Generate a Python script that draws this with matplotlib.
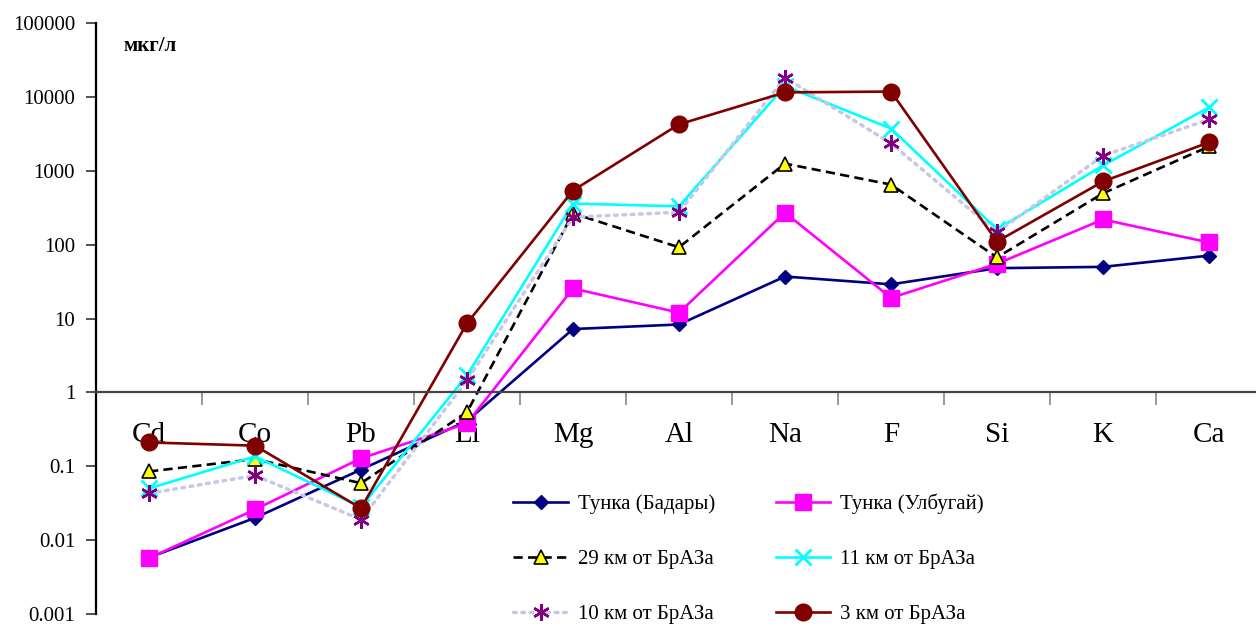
import numpy as np
import matplotlib.pyplot as plt
from matplotlib.ticker import FixedLocator, FuncFormatter

plt.rcParams['font.family'] = ['Liberation Serif', 'DejaVu Serif']

elements = ['Cd', 'Co', 'Pb', 'Li', 'Mg', 'Al', 'Na', 'F', 'Si', 'K', 'Ca']

badary = [0.0058, 0.02, 0.09, 0.41, 7.2, 8.3, 37, 29, 48, 50, 71]
ulbugai = [0.0057, 0.026, 0.128, 0.38, 25.5, 12, 271, 19, 55, 219, 107]
km29 = [0.085, 0.125, 0.059, 0.54, 265, 92, 1250, 650, 67, 495, 2130]
km11 = [0.050, 0.136, 0.028, 1.7, 360, 330, 14000, 3730, 161, 1180, 7200]
km10 = [0.043, 0.075, 0.019, 1.45, 235, 275, 18200, 2350, 147, 1600, 4950]
km3 = [0.21, 0.19, 0.027, 8.6, 540, 4250, 11500, 11800, 110, 716, 2420]

labels = ['Тунка (Бадары)', 'Тунка (Улбугай)', '29 км от БрАЗа',
          '11 км от БрАЗа', '10 км от БрАЗа', '3 км от БрАЗа']

fig = plt.figure(figsize=(12.56, 6.26), dpi=100)
ax = fig.add_axes([96/1256, 12/626, 1160/1256, 591/626])

x = np.arange(len(elements))
lw = 1.9
l1, = ax.plot(x, badary, color='#000080', lw=lw, marker='D', ms=7, mfc='#000080', mec='#000080')
l2, = ax.plot(x, ulbugai, color='#ff00ff', lw=lw, marker='s', ms=11, mfc='#ff00ff', mec='#ff00ff')
l3, = ax.plot(x, km29, color='black', lw=lw, ls=(0, (3.5, 2)), marker='^', ms=10, mfc='#ffff00', mec='black', mew=1.2)
l4, = ax.plot(x, km11, color='#00ffff', lw=lw, marker='x', ms=11, mew=2, mec='#00ffff')
l5, = ax.plot(x, km10, color='#c8c8e6', lw=2.5, ls=(0, (0.8, 1.6)), dash_capstyle='round',
              marker=(6, 2, 0), ms=12, mec='#800080', mew=1.8)
l6, = ax.plot(x, km3, color='#800000', lw=lw, marker='o', ms=12, mfc='#800000', mec='#800000')

ax.set_yscale('log')
ax.set_ylim(0.001, 100000)
ax.set_xlim(-0.5, -0.5 + 1160/106)

ax.yaxis.set_major_locator(FixedLocator([0.001, 0.01, 0.1, 1, 10, 100, 1000, 10000, 100000]))
ax.yaxis.set_minor_locator(FixedLocator([]))
ax.yaxis.set_major_formatter(FuncFormatter(lambda v, p: ('%g' % v) if v < 1 else '%d' % v))
ax.tick_params(axis='y', labelsize=15, length=7, width=1.2, color='#333333', pad=8)

ax.spines['top'].set_visible(False)
ax.spines['right'].set_visible(False)
ax.spines['left'].set_linewidth(1.6)
ax.spines['bottom'].set_position(('data', 1))
ax.spines['bottom'].set_color('#444444')
ax.spines['bottom'].set_linewidth(1.6)

ax.set_xticks(x)
ax.set_xticklabels(elements)
ax.set_xticks(np.arange(0.5, 10.5, 1), minor=True)
ax.tick_params(axis='x', which='major', length=0, labelsize=21, pad=21)
ax.tick_params(axis='x', which='minor', length=9, width=1.2, color='#888888', direction='out')

fig.text(123/1256, 1 - 46/626, 'мкг/л', fontsize=15, fontweight='bold', va='center')

# legend is filled row by row in the reference
handles = [l1, l3, l5, l2, l4, l6]
order = [0, 2, 4, 1, 3, 5]
leg = ax.legend(handles, [labels[i] for i in order], ncol=2, frameon=False,
                fontsize=15, loc='upper left', bbox_to_anchor=(503/1256, 1 - 483/626),
                bbox_transform=fig.transFigure, handlelength=2.6, handletextpad=0.5,
                columnspacing=2.9, labelspacing=1.7, borderpad=0)

fig.savefig('out.png', dpi=100)
